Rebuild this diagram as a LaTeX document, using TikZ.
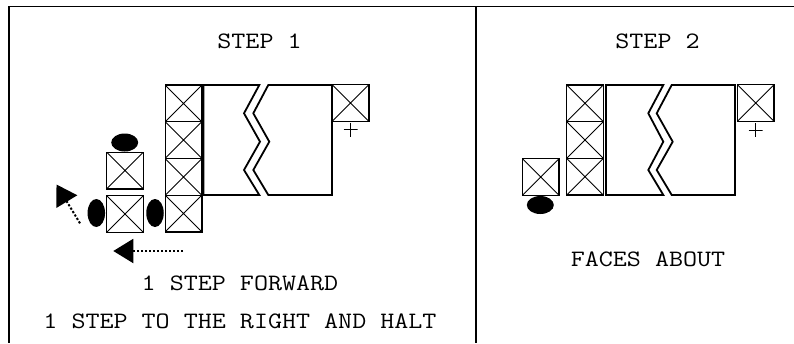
\documentclass[tikz,border=0pt]{standalone}
\usepackage{fontspec}
\setmonofont[FakeStretch=1.16]{Latin Modern Mono}
\usetikzlibrary{arrows.meta,shapes.geometric}

\begin{document}
\begin{tikzpicture}[
        x=1pt,y=-1pt,
        xbox/.style={draw,line width=1.3pt,minimum size=36.7pt,inner sep=0pt,
            path picture={\draw[line width=0.9pt] (path picture bounding box.south west) -- (path picture bounding box.north east)
                (path picture bounding box.north west) -- (path picture bounding box.south east);}},
        man/.style={ellipse,fill=black,inner sep=0pt},
        plus/.style={minimum size=14pt,inner sep=0pt,
            path picture={\draw[line width=1pt] (path picture bounding box.north) -- (path picture bounding box.south)
                (path picture bounding box.west) -- (path picture bounding box.east);}},
        wall/.style={draw,line width=1.8pt,line join=miter},
        lbl/.style={anchor=base,inner sep=0pt,font=\ttfamily\fontsize{23.5}{28}\selectfont},
        move/.style={line width=2pt,dash pattern=on 2.2pt off 1.8pt,-{Triangle[length=20pt,width=24pt]}}
    ]
        \useasboundingbox (0,0) rectangle (794,343);

        % frame
        \draw[line width=1pt] (9,6) -- (794,6);
        \draw[line width=1.6pt] (9,6) -- (9,343);
        \draw[line width=1.6pt] (476,6) -- (476,343);

        % step 1
        \node[lbl] (t1) at (259.5,48) {STEP 1};
        \node[xbox] (c1) at (183.5,103.4) {};
        \node[xbox] (c2) at (183.5,140.1) {};
        \node[xbox] (c3) at (183.5,176.9) {};
        \node[xbox] (c4) at (183.5,213.6) {};
        \draw[wall] (203.5,85) -- (259.3,85) -- (244,113.3) -- (260,141.7) -- (244,170) -- (259.3,195) -- (203.5,195) -- cycle;
        \draw[wall] (268.3,85) -- (332,85) -- (332,195) -- (268.3,195) -- (253.3,170) -- (269.3,141.7) -- (253.3,113.3) -- cycle;
        \node[xbox] (g1) at (350.5,103) {};
        \node[plus] (p1) at (350.5,129.5) {};

        \node[xbox] (s1) at (125,170.5) {};
        \node[xbox] (s2) at (125,214) {};
        \node[man,minimum width=27pt,minimum height=18pt] (m1) at (124.7,142.5) {};
        \node[man,minimum width=17.5pt,minimum height=28pt] (m2) at (96.3,213) {};
        \node[man,minimum width=17.5pt,minimum height=28pt] (m3) at (155,213) {};

        \coordinate (d1) at (80,223.3);
        \coordinate (d2) at (56.5,184.5);
        \draw[move] (d1) -- (d2);
        \coordinate (h1) at (183,251);
        \coordinate (h2) at (113.3,251);
        \draw[move] (h1) -- (h2);

        \node[lbl] (n1) at (240,290.7) {1 STEP FORWARD};
        \node[lbl] (n2) at (240,328) {1 STEP TO THE RIGHT AND HALT};

        % step 2
        \node[lbl] (t2) at (657.5,48) {STEP 2};
        \node[xbox] (k1) at (585,103.3) {};
        \node[xbox] (k2) at (585,140) {};
        \node[xbox] (k3) at (585,176.7) {};
        \draw[wall] (606,85) -- (663.3,85) -- (648.3,113.3) -- (663.3,141.7) -- (648.3,170) -- (663.3,195) -- (606,195) -- cycle;
        \draw[wall] (671.7,85) -- (735,85) -- (735,195) -- (671.7,195) -- (656.7,170) -- (672.7,141.7) -- (656.7,113.3) -- cycle;
        \node[xbox] (g2) at (755.7,103) {};
        \node[plus] (p2) at (755.5,130) {};

        \node[xbox] (s3) at (540.7,177) {};
        \node[man,minimum width=27pt,minimum height=18pt] (m4) at (540.3,205) {};

        \node[lbl] (n3) at (648,266.7) {FACES ABOUT};
    \end{tikzpicture}
\end{document}
